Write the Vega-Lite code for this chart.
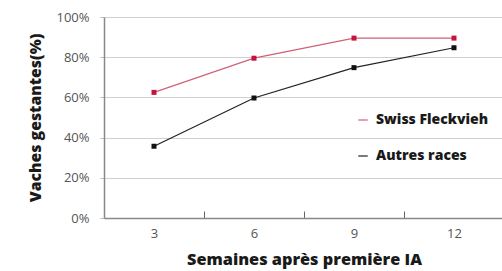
{
  "$schema": "https://vega.github.io/schema/vega-lite/v6.json",
  "width": 400,
  "height": 201,
  "autosize": {"type": "none"},
  "padding": {"left": 104, "top": 17, "right": 0, "bottom": 53},
  "background": "white",
  "config": {
    "view": {"stroke": null},
    "font": "Open Sans"
  },
  "data": {
    "values": [
      {"semaine": "3", "serie": "Swiss Fleckvieh", "valeur": 0.625},
      {"semaine": "6", "serie": "Swiss Fleckvieh", "valeur": 0.795},
      {"semaine": "9", "serie": "Swiss Fleckvieh", "valeur": 0.895},
      {"semaine": "12", "serie": "Swiss Fleckvieh", "valeur": 0.895},
      {"semaine": "3", "serie": "Autres races", "valeur": 0.357},
      {"semaine": "6", "serie": "Autres races", "valeur": 0.597},
      {"semaine": "9", "serie": "Autres races", "valeur": 0.748},
      {"semaine": "12", "serie": "Autres races", "valeur": 0.847}
    ]
  },
  "encoding": {
    "x": {
      "field": "semaine",
      "type": "ordinal",
      "sort": ["3", "6", "9", "12"],
      "scale": {"type": "band", "paddingInner": 0, "paddingOuter": 0},
      "axis": {
        "title": "Semaines après première IA",
        "titleFont": "Open Sans",
        "titleFontSize": 16.3,
        "titleFontWeight": 800,
        "titleColor": "#1a1a1a",
        "titlePadding": 11,
        "labelAngle": 0,
        "labelFontSize": 13,
        "labelColor": "#555",
        "labelPadding": 16,
        "tickBand": "extent",
        "tickSize": -7,
        "tickColor": "#666",
        "domainColor": "#888",
        "domainWidth": 1.5,
        "grid": false
      }
    },
    "y": {
      "field": "valeur",
      "type": "quantitative",
      "scale": {"domain": [0, 1], "nice": false},
      "axis": {
        "title": "Vaches gestantes(%)",
        "titleFont": "Open Sans",
        "titleFontSize": 15.8,
        "titleFontWeight": 800,
        "titleColor": "#1a1a1a",
        "titlePadding": 12,
        "values": [0, 0.2, 0.4, 0.6, 0.8, 1],
        "format": ".0%",
        "labelFontSize": 13,
        "labelColor": "#555",
        "labelPadding": 11,
        "tickSize": 4,
        "tickColor": "#bbb",
        "domainColor": "#888",
        "domainWidth": 1.5,
        "gridColor": "#d0d0d0",
        "gridWidth": 1
      }
    }
  },
  "layer": [
    {
      "mark": {"type": "line", "strokeWidth": 1.2},
      "encoding": {
        "color": {
          "field": "serie",
          "type": "nominal",
          "scale": {"domain": ["Swiss Fleckvieh", "Autres races"], "range": ["#d0607a", "#222222"]},
          "legend": {
            "title": null,
            "orient": "none",
            "legendX": 252,
            "legendY": 96,
            "padding": 0,
            "symbolType": "stroke",
            "symbolSize": 90,
            "symbolStrokeWidth": 1.2,
            "labelFont": "Open Sans",
            "labelFontSize": 14,
            "labelFontWeight": 800,
            "labelColor": "#1a1a1a",
            "labelOffset": 6,
            "rowPadding": 22
          }
        }
      }
    },
    {
      "mark": {"type": "square", "size": 25, "opacity": 1},
      "encoding": {
        "fill": {
          "field": "serie",
          "type": "nominal",
          "scale": {"domain": ["Swiss Fleckvieh", "Autres races"], "range": ["#c4143c", "#111111"]},
          "legend": null
        }
      }
    }
  ]
}
